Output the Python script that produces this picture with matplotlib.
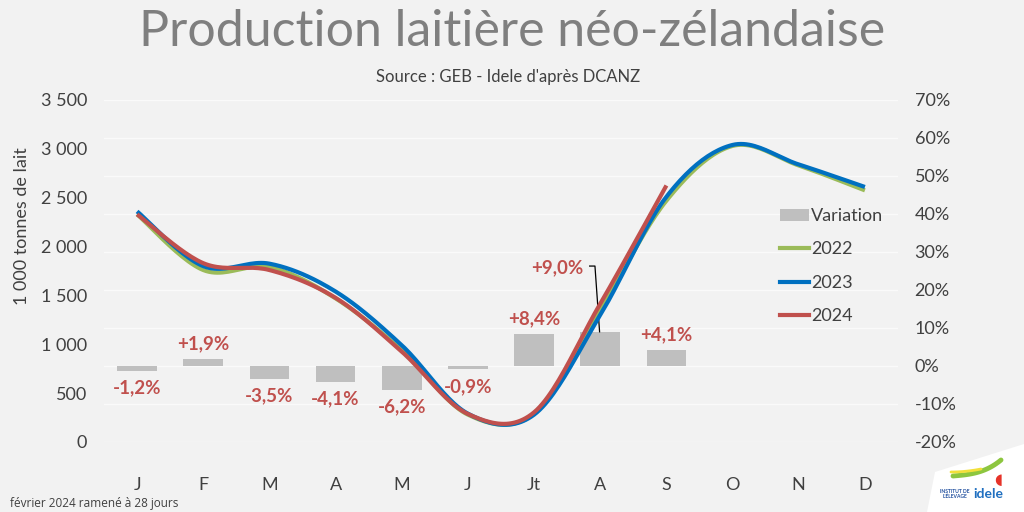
import numpy as np
import matplotlib
matplotlib.use("Agg")
import matplotlib.pyplot as plt
from matplotlib.patches import Patch, Polygon
from matplotlib.lines import Line2D
from matplotlib.ticker import FuncFormatter, FixedLocator

months = ["J", "F", "M", "A", "M", "J", "Jt", "A", "S", "O", "N", "D"]
prod_2022 = [2330, 1760, 1790, 1470, 940, 280, 290, 1350, 2470, 3030, 2830, 2575]
prod_2023 = [2360, 1800, 1825, 1540, 990, 290, 280, 1300, 2510, 3040, 2840, 2610]
prod_2024 = [2330, 1830, 1760, 1475, 925, 287, 304, 1415, 2625]
variation = [-1.2, 1.9, -3.5, -4.1, -6.2, -0.9, 8.4, 9.0, 4.1]
var_labels = ["-1,2%", "+1,9%", "-3,5%", "-4,1%", "-6,2%", "-0,9%", "+8,4%", "+9,0%", "+4,1%"]

BG = "#F2F2F2"
GREEN = "#9BBB59"
BLUE = "#0070C0"
RED = "#C0504D"
GREY = "#BFBFBF"
TXT = "#404040"
FONT = ["Lato", "DejaVu Sans"]


def smooth(xs, ys, n=24):
    """Excel-like smoothed line (cubic Bezier through the points)."""
    xs = np.asarray(xs, float)
    ys = np.asarray(ys, float)
    px, py = [], []
    m = len(xs)
    for i in range(m - 1):
        x0, y0 = (xs[i - 1], ys[i - 1]) if i > 0 else (xs[i], ys[i])
        x1, y1 = xs[i], ys[i]
        x2, y2 = xs[i + 1], ys[i + 1]
        x3, y3 = (xs[i + 2], ys[i + 2]) if i + 2 < m else (xs[i + 1], ys[i + 1])
        c1x, c1y = x1 + (x2 - x0) / 6, y1 + (y2 - y0) / 6
        c2x, c2y = x2 - (x3 - x1) / 6, y2 - (y3 - y1) / 6
        t = np.linspace(0, 1, n, endpoint=(i == m - 2))
        b0, b1, b2, b3 = (1 - t) ** 3, 3 * t * (1 - t) ** 2, 3 * t ** 2 * (1 - t), t ** 3
        px.extend(b0 * x1 + b1 * c1x + b2 * c2x + b3 * x2)
        py.extend(b0 * y1 + b1 * c1y + b2 * c2y + b3 * y2)
    return np.array(px), np.array(py)


plt.rcParams["font.family"] = FONT
fig = plt.figure(figsize=(10.24, 5.12), dpi=100, facecolor=BG)
ax = fig.add_axes([104 / 1024, 1 - 442 / 512, (898 - 104) / 1024, (442 - 100) / 512])
ax2 = ax.twinx()
ax.set_zorder(ax2.get_zorder() + 1)
ax.patch.set_visible(False)
ax2.set_facecolor(BG)

x_all = np.arange(len(months))

# bars (right axis)
xv = np.arange(len(variation))
ax2.bar(xv, variation, width=0.6, color=GREY, zorder=2)
ax2.set_ylim(-20, 70)
ax2.yaxis.set_major_locator(FixedLocator(np.arange(-20, 71, 10)))
ax2.yaxis.set_major_formatter(FuncFormatter(lambda v, p: f"{int(round(v))}%"))

# lines (left axis)
for data, col in [(prod_2022, GREEN), (prod_2023, BLUE), (prod_2024, RED)]:
    sx, sy = smooth(np.arange(len(data)), data)
    ax.plot(sx, sy, color=col, lw=3.0, solid_capstyle="butt", zorder=3)

ax.set_ylim(0, 3500)
ax.set_xlim(-0.5, 11.5)
ax.yaxis.set_major_locator(FixedLocator(np.arange(0, 3501, 500)))
ax.yaxis.set_major_formatter(FuncFormatter(lambda v, p: f"{int(v):,}".replace(",", " ")))
ax2.grid(axis="y", color="#FAFAFA", lw=1.0, zorder=0)
ax2.set_axisbelow(True)

ax.set_xticks(x_all)
ax.set_xticklabels(months)
for a in (ax, ax2):
    for s in a.spines.values():
        s.set_visible(False)
    a.tick_params(length=0, labelsize=13, labelcolor=TXT)
ax.tick_params(axis="x", pad=25)
ax.tick_params(axis="y", pad=12)
ax2.tick_params(axis="y", pad=12)

# bar value labels
for i, (v, lab) in enumerate(zip(variation, var_labels)):
    if i == 7:
        continue
    if v >= 0:
        ax2.annotate(lab, (i, v), xytext=(0, 5), textcoords="offset points",
                     ha="center", va="bottom", color=RED, fontsize=13.5, fontweight="bold")
    else:
        ax2.annotate(lab, (i, v), xytext=(0, -6), textcoords="offset points",
                     ha="center", va="top", color=RED, fontsize=13.5, fontweight="bold")
# +9,0% label with leader line
ax2.text(6.35, 25.8, var_labels[7], ha="center", va="center", color=RED,
         fontsize=13.5, fontweight="bold")
ax2.plot([6.84, 6.92, 6.99], [26.3, 26.3, variation[7]], color="black", lw=0.9, zorder=4)

# legend
handles = [Patch(facecolor=GREY, edgecolor="none"),
           Line2D([], [], color=GREEN, lw=3),
           Line2D([], [], color=BLUE, lw=3),
           Line2D([], [], color=RED, lw=3)]
fig.legend(handles, ["Variation", "2022", "2023", "2024"], loc="upper left",
           bbox_to_anchor=(764 / 1024, 1 - 192 / 512), frameon=False, fontsize=13,
           handlelength=1.6, handleheight=0.6, handletextpad=0.1, labelspacing=0.95,
           labelcolor=TXT)

# titles and texts
fig.text(512 / 1024, 1 - 32 / 512, "Production laitière néo-zélandaise", ha="center", va="center",
         fontsize=36, color="#7F7F7F")
fig.text(508 / 1024, 1 - 77 / 512, "Source : GEB - Idele d'après DCANZ", ha="center", va="center",
         fontsize=12, color=TXT)
fig.text(22 / 1024, 1 - 226 / 512, "1 000 tonnes de lait", rotation=90, ha="center", va="center",
         fontsize=13, color=TXT)
fig.text(10 / 1024, 1 - 503 / 512, "février 2024 ramené à 28 jours", ha="left", va="center",
         fontsize=8.5, color=TXT, family=["Open Sans", "DejaVu Sans"])

# simple logo
logo = fig.add_axes([925 / 1024, 0, 99 / 1024, 68 / 512])
logo.set_xlim(0, 99)
logo.set_ylim(0, 68)
logo.axis("off")
logo.add_patch(Polygon([[2, 0], [10, 40], [99, 68], [99, 0]], closed=True, facecolor="white",
                       edgecolor="none", joinstyle="round"))
tt = np.linspace(0, 1, 30)
logo.plot(28 + 48 * tt, 36 + 4 * tt + 12 * tt ** 3, color="#8DC63F", lw=3.5, solid_capstyle="round")
logo.plot(26 + 30 * tt, 40 + 3 * tt ** 2, color="#F2E03A", lw=2.0, solid_capstyle="round")
logo.text(73, 32, "◖", color="#E63329", fontsize=11, ha="center", va="center")
logo.text(30, 18, "INSTITUT DE\nL'ÉLEVAGE", fontsize=3.6, color="#1F4E9E", ha="center", va="center",
          fontweight="bold", linespacing=0.9)
logo.text(63, 18, "idele", fontsize=10, color="#1F6FC0", ha="center", va="center", fontweight="bold")

fig.savefig("out.png", dpi=100, facecolor=BG)
